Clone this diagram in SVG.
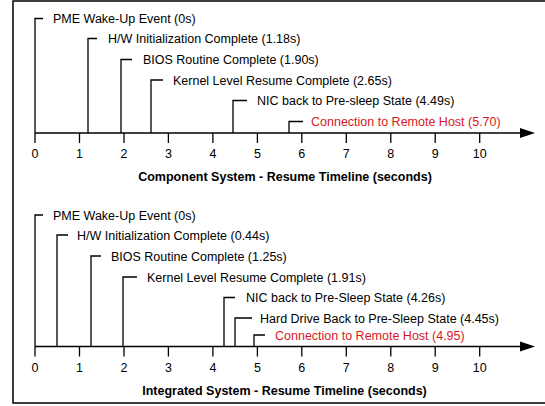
<svg xmlns="http://www.w3.org/2000/svg" width="545" height="406" viewBox="0 0 545 406">
<style>
text{font-family:"Liberation Sans",Arial,sans-serif;font-size:12.5px;fill:#000}
.red{fill:#d7191f}
.title{font-weight:bold;text-anchor:middle}
.tick{text-anchor:middle}
.ln{stroke:#000;stroke-width:1.3;fill:none}
</style>
<rect x="13" y="1" width="540" height="402" fill="#fff" stroke="#000" stroke-width="1.5"/>
<g id="connectors">
<g id="axis1">
<path class="ln" d="M35 133H522"/>
<polygon points="520,128 535,133 520,138" fill="#000"/>
<path class="ln" d="M35 133v10M79.5 133v10M124 133v10M168.4 133v10M212.9 133v10M257.4 133v10M301.8 133v10M346.3 133v10M390.8 133v10M435.2 133v10M479.7 133v10"/>
</g>
<g id="axis2">
<path class="ln" d="M35 346.5H522"/>
<polygon points="520,341.5 535,346.5 520,351.5" fill="#000"/>
<path class="ln" d="M35 346.5v10M79.5 346.5v10M124 346.5v10M168.4 346.5v10M212.9 346.5v10M257.4 346.5v10M301.8 346.5v10M346.3 346.5v10M390.8 346.5v10M435.2 346.5v10M479.7 346.5v10"/>
</g>
<path class="ln" d="M35 133V18.5H43M88 133V38.5H97M121 133V59.5H132M151 133V80H163M233 133V100.5H247M289 133V121.5H303"/>
<path class="ln" d="M35 346.5V215H43M57 346.5V235H68M91 346.5V256H101M123 346.5V277H137M224 346.5V297.5H235M235 346.5V318H252M254 346.5V335H265"/>
</g>
<g id="ticks1">
<text class="tick" x="35" y="158">0</text><text class="tick" x="79.5" y="158">1</text><text class="tick" x="124" y="158">2</text><text class="tick" x="168.4" y="158">3</text><text class="tick" x="212.9" y="158">4</text><text class="tick" x="257.4" y="158">5</text><text class="tick" x="301.8" y="158">6</text><text class="tick" x="346.3" y="158">7</text><text class="tick" x="390.8" y="158">8</text><text class="tick" x="435.2" y="158">9</text><text class="tick" x="479.7" y="158">10</text>
</g>
<g id="ticks2">
<text class="tick" x="35" y="372">0</text><text class="tick" x="79.5" y="372">1</text><text class="tick" x="124" y="372">2</text><text class="tick" x="168.4" y="372">3</text><text class="tick" x="212.9" y="372">4</text><text class="tick" x="257.4" y="372">5</text><text class="tick" x="301.8" y="372">6</text><text class="tick" x="346.3" y="372">7</text><text class="tick" x="390.8" y="372">8</text><text class="tick" x="435.2" y="372">9</text><text class="tick" x="479.7" y="372">10</text>
</g>
<g id="c-pme"><text x="53" y="23">PME Wake-Up Event (0s)</text></g>
<g id="c-hw"><text x="108" y="43">H/W Initialization Complete (1.18s)</text></g>
<g id="c-bios"><text x="143" y="64">BIOS Routine Complete (1.90s)</text></g>
<g id="c-kernel"><text x="173" y="84.5">Kernel Level Resume Complete (2.65s)</text></g>
<g id="c-nic"><text x="257" y="105">NIC back to Pre-sleep State (4.49s)</text></g>
<g id="c-conn"><text class="red" x="311" y="126">Connection to Remote Host (5.70)</text></g>
<g id="title1"><text class="title" x="285" y="181">Component System - Resume Timeline (seconds)</text></g>
<g id="i-pme"><text x="53" y="219.5">PME Wake-Up Event (0s)</text></g>
<g id="i-hw"><text x="77" y="239.5">H/W Initialization Complete (0.44s)</text></g>
<g id="i-bios"><text x="111" y="260.5">BIOS Routine Complete (1.25s)</text></g>
<g id="i-kernel"><text x="147" y="281.5">Kernel Level Resume Complete (1.91s)</text></g>
<g id="i-nic"><text x="246" y="302">NIC back to Pre-Sleep State (4.26s)</text></g>
<g id="i-hd"><text x="260" y="322.5">Hard Drive Back to Pre-Sleep State (4.45s)</text></g>
<g id="i-conn"><text class="red" x="275" y="339.5">Connection to Remote Host (4.95)</text></g>
<g id="title2"><text class="title" x="284.5" y="395">Integrated System - Resume Timeline (seconds)</text></g>
</svg>
